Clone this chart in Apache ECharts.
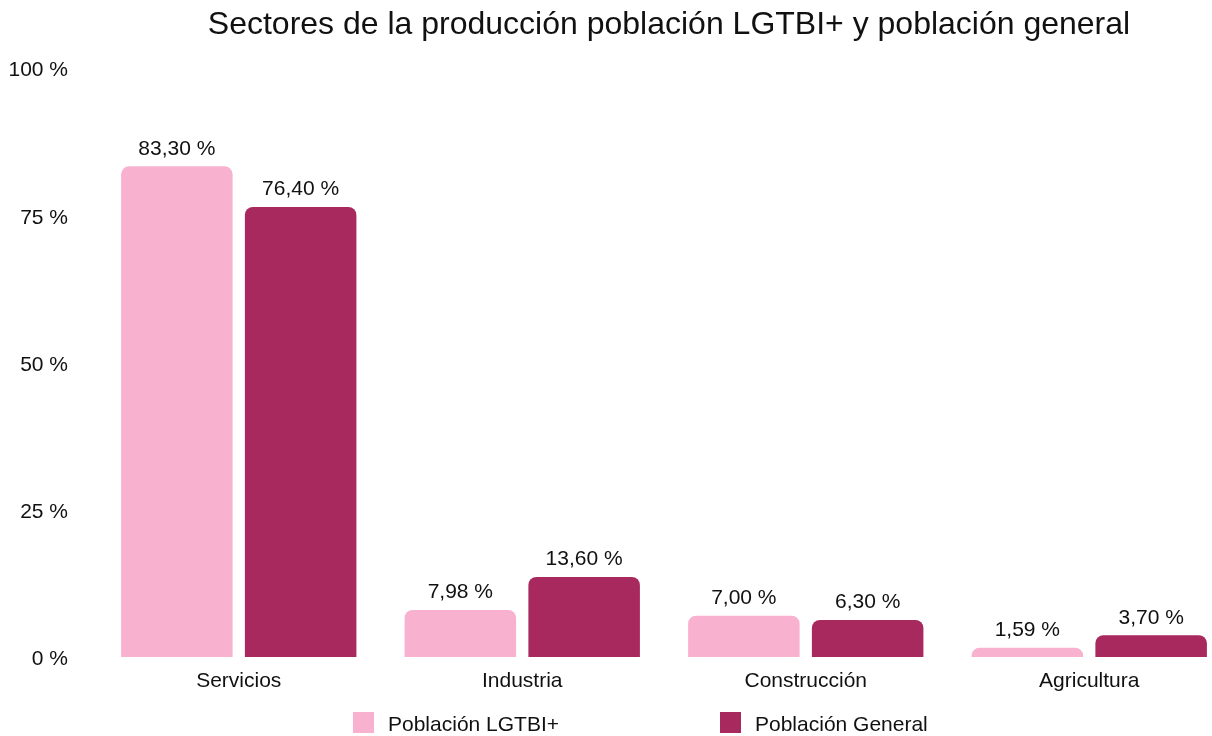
<!DOCTYPE html>
<html>
<head>
<meta charset="utf-8">
<script src="https://cdn.jsdelivr.net/npm/echarts@6/dist/echarts.min.js"></script>
<style>
html,body{margin:0;padding:0;background:#fff;}
#chart{width:1212px;height:736px;}
</style>
</head>
<body>
<div id="chart"></div>
<script>
const categories = ['Servicios', 'Industria', 'Construcción', 'Agricultura'];
const lgtbi = [83.30, 7.98, 7.00, 1.59];
const general = [76.40, 13.60, 6.30, 3.70];
const seriesNames = ['Población LGTBI+', 'Población General'];
const colors = ['#F8B2CF', '#A8295E'];
const FONT = '"Liberation Sans", Arial, Helvetica, sans-serif';
const FS = 21;

const fmt = v => v.toFixed(2).replace('.', ',') + ' %';
const richT = { t: { fontFamily: FONT, fontSize: FS, color: '#111', padding: [5, 0, 0, 0] } };

const chart = echarts.init(document.getElementById('chart'));
chart.setOption({
  animation: false,
  textStyle: { fontFamily: FONT },
  title: {
    text: 'Sectores de la producción población LGTBI+ y población general',
    left: 664, textAlign: 'center', top: 4,
    textStyle: { fontFamily: FONT, fontSize: 32, fontWeight: 'normal', color: '#111' }
  },
  legend: [
    { data: [seriesNames[0]], left: 353, top: 712, padding: 0, itemWidth: 21, itemHeight: 21, itemGap: 10,
      icon: 'rect', formatter: n => '{t|' + n + '}',
      textStyle: { fontFamily: FONT, fontSize: FS, color: '#111', padding: [0,0,0,9], rich: richT } },
    { data: [seriesNames[1]], left: 720, top: 712, padding: 0, itemWidth: 21, itemHeight: 21, itemGap: 10,
      icon: 'rect', formatter: n => '{t|' + n + '}',
      textStyle: { fontFamily: FONT, fontSize: FS, color: '#111', padding: [0,0,0,9], rich: richT } }
  ],
  grid: { left: 97, width: 1134, top: 68, bottom: 79, containLabel: false, outerBoundsMode: 'none' },
  xAxis: {
    type: 'category', data: categories,
    axisLine: { show: false }, axisTick: { show: false },
    axisLabel: { fontFamily: FONT, fontSize: FS, color: '#111', margin: 14 }
  },
  yAxis: {
    type: 'value', min: 0, max: 100, interval: 25,
    splitLine: { show: false }, axisLine: { show: false }, axisTick: { show: false },
    axisLabel: { fontFamily: FONT, fontSize: FS, color: '#111', margin: 29,
      formatter: v => '{t|' + v + ' %}', rich: richT }
  },
  series: [
    { name: seriesNames[0], type: 'bar', data: lgtbi, barCategoryGap: '17%', barGap: '11%',
      itemStyle: { color: colors[0], borderRadius: [8, 8, 0, 0] },
      label: { show: true, position: 'top', distance: 7, fontFamily: FONT, fontSize: FS, color: '#111',
        formatter: p => fmt(p.value) } },
    { name: seriesNames[1], type: 'bar', data: general,
      itemStyle: { color: colors[1], borderRadius: [8, 8, 0, 0] },
      label: { show: true, position: 'top', distance: 7, fontFamily: FONT, fontSize: FS, color: '#111',
        formatter: p => fmt(p.value) } }
  ]
});
</script>
</body>
</html>
